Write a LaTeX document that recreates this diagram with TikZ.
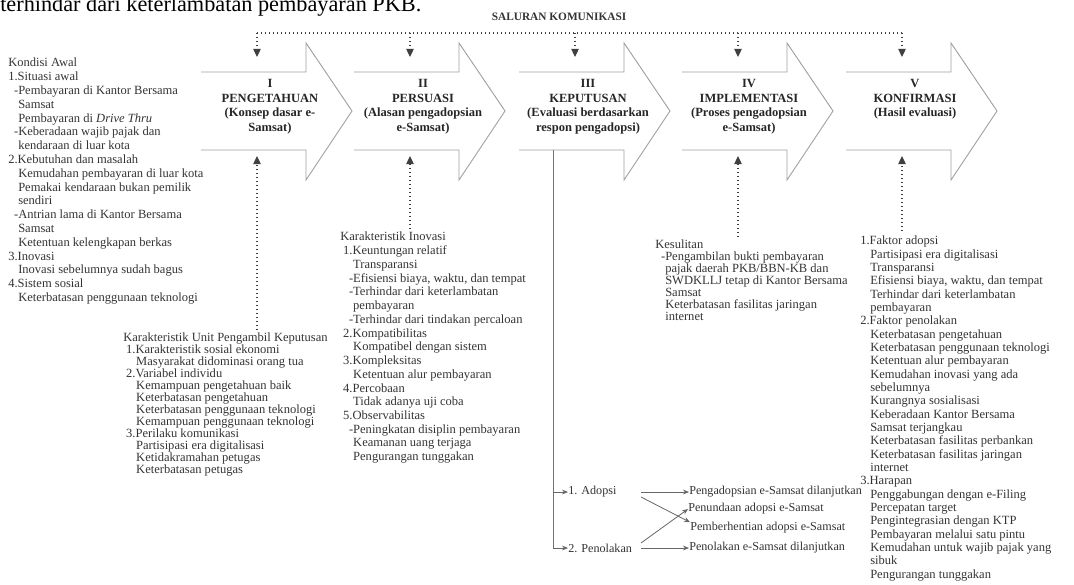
\documentclass[tikz,border=0pt]{standalone}
\usepackage{fontspec}
\setmainfont{Liberation Serif}
\usetikzlibrary{arrows.meta}
\definecolor{txt}{HTML}{333333}
\definecolor{arrowline}{HTML}{A0A0A0}
\definecolor{dotc}{HTML}{404040}
\newcommand\indt{\hspace*{7.5pt}}
\newcommand\numi{\hspace*{2.2pt}}
\tikzset{
  body/.style={anchor=north west, inner sep=0pt, align=left, text=txt, font=\fontsize{9.4}{#1}\selectfont},
  body/.default=9.75,
  stagelabel/.style={anchor=north, inner sep=0pt, align=center, text=black!85, font=\bfseries\fontsize{9.4}{10.9}\selectfont},
  stagearrow/.style={draw=arrowline, line width=0.7pt, line join=miter},
  dotline/.style={draw=dotc, line width=0.9pt, dash pattern=on 0.8pt off 2.2pt},
  dottip/.style={-{Triangle[length=6pt,width=5.5pt]}},
  branchline/.style={draw=black!60, line width=0.6pt},
  branch/.style={branchline, -{Stealth[length=4.5pt,width=3.6pt]}},
  smalltext/.style={anchor=west, inner sep=0pt, text=txt, font=\fontsize{9.1}{9.5}\selectfont},
}
\begin{document}
\begin{tikzpicture}[x=0.75pt,y=-0.75pt]
\useasboundingbox (0,0) rectangle (1074,585);
\clip (0,0) rectangle (1074,585);

% text above the figure
\node[anchor=base west, inner sep=0pt, font=\fontsize{16.7}{19}\selectfont] (toptext) at (0,12) {terhindar dari keterlambatan pembayaran PKB.};

% communication channel
\node[inner sep=0pt, font=\bfseries\fontsize{8.5}{10}\selectfont, text=black!80] (saluran) at (559,17) {SALURAN KOMUNIKASI};
\coordinate (busL) at (257,33);
\coordinate (busR) at (902,33);
\draw[dotline] (busL) -- (busR);

% stage arrows
\foreach \c/\n in {257/1,410/2,575/3,738/4,902/5}{
  \draw[stagearrow] (\c-56,72) -- (\c+49,72) -- (\c+49,43) -- (\c+95,111) -- (\c+49,180) -- (\c+49,150) -- (\c-56,150);
  \coordinate (bus\n) at (\c,33);
  \coordinate (in\n) at (\c,57);
  \draw[dotline, dottip] (bus\n) -- (in\n);
  \coordinate (up\n) at (\c,156);
}

\node[stagelabel] (s1) at (270,79) {I\\PENGETAHUAN\\(Konsep dasar e-\\Samsat)};
\node[stagelabel] (s2) at (423,79) {II\\PERSUASI\\(Alasan pengadopsian\\e-Samsat)};
\node[stagelabel] (s3) at (588,79) {III\\KEPUTUSAN\\(Evaluasi berdasarkan\\respon pengadopsi)};
\node[stagelabel] (s4) at (749,79) {IV\\IMPLEMENTASI\\(Proses pengadopsian\\e-Samsat)};
\node[stagelabel] (s5) at (915,79) {V\\KONFIRMASI\\(Hasil evaluasi)};

% Kondisi awal
\node[body=10.35] (kondisi) at (8,58) {Kondisi Awal\\
1.Situasi awal\\
\indt\llap{-}Pembayaran di Kantor Bersama\\
\indt Samsat\\
\indt Pembayaran di \textit{Drive Thru}\\
\indt\llap{-}Keberadaan wajib pajak dan\\
\indt kendaraan di luar kota\\
2.Kebutuhan dan masalah\\
\indt Kemudahan pembayaran di luar kota\\
\indt Pemakai kendaraan bukan pemilik\\
\indt sendiri\\
\indt\llap{-}Antrian lama di Kantor Bersama\\
\indt Samsat\\
\indt Ketentuan kelengkapan berkas\\
3.Inovasi\\
\indt Inovasi sebelumnya sudah bagus\\
4.Sistem sosial\\
\indt Keterbatasan penggunaan teknologi};

% Karakteristik unit pengambil keputusan
\node[body=9] (unit) at (123,333) {Karakteristik Unit Pengambil Keputusan\\
\numi 1.Karakteristik sosial ekonomi\\
\numi\indt Masyarakat didominasi orang tua\\
\numi 2.Variabel individu\\
\numi\indt Kemampuan pengetahuan baik\\
\numi\indt Keterbatasan pengetahuan\\
\numi\indt Keterbatasan penggunaan teknologi\\
\numi\indt Kemampuan penggunaan teknologi\\
\numi 3.Perilaku komunikasi\\
\numi\indt Partisipasi era digitalisasi\\
\numi\indt Ketidakramahan petugas\\
\numi\indt Keterbatasan petugas};

% Karakteristik inovasi
\node[body=10.3] (inovasi) at (340,232) {Karakteristik Inovasi\\
\numi 1.Keuntungan relatif\\
\numi\indt Transparansi\\
\numi\indt\llap{-}Efisiensi biaya, waktu, dan tempat\\
\numi\indt\llap{-}Terhindar dari keterlambatan\\
\numi\indt pembayaran\\
\numi\indt\llap{-}Terhindar dari tindakan percaloan\\
\numi 2.Kompatibilitas\\
\numi\indt Kompatibel dengan sistem\\
\numi 3.Kompleksitas\\
\numi\indt Ketentuan alur pembayaran\\
\numi 4.Percobaan\\
\numi\indt Tidak adanya uji coba\\
\numi 5.Observabilitas\\
\numi\indt\llap{-}Peningkatan disiplin pembayaran\\
\numi\indt Keamanan uang terjaga\\
\numi\indt Pengurangan tunggakan};

% Kesulitan
\node[body=8.9] (kesulitan) at (655,240) {Kesulitan\\
\indt\llap{-}Pengambilan bukti pembayaran\\
\indt pajak daerah PKB/BBN-KB dan\\
\indt SWDKLLJ tetap di Kantor Bersama\\
\indt Samsat\\
\indt Keterbatasan fasilitas jaringan\\
\indt internet};

% Konfirmasi
\node[body=10.0] (faktor) at (860,236) {1.Faktor adopsi\\
\indt Partisipasi era digitalisasi\\
\indt Transparansi\\
\indt Efisiensi biaya, waktu, dan tempat\\
\indt Terhindar dari keterlambatan\\
\indt pembayaran\\
2.Faktor penolakan\\
\indt Keterbatasan pengetahuan\\
\indt Keterbatasan penggunaan teknologi\\
\indt Ketentuan alur pembayaran\\
\indt Kemudahan inovasi yang ada\\
\indt sebelumnya\\
\indt Kurangnya sosialisasi\\
\indt Keberadaan Kantor Bersama\\
\indt Samsat terjangkau\\
\indt Keterbatasan fasilitas perbankan\\
\indt Keterbatasan fasilitas jaringan\\
\indt internet\\
3.Harapan\\
\indt Penggabungan dengan e-Filing\\
\indt Percepatan target\\
\indt Pengintegrasian dengan KTP\\
\indt Pembayaran melalui satu pintu\\
\indt Kemudahan untuk wajib pajak yang\\
\indt sibuk\\
\indt Pengurangan tunggakan};

% upward dotted arrows from the characteristic blocks
\coordinate (f1) at (257,330);
\coordinate (f2) at (410,229);
\coordinate (f4) at (738,237);
\coordinate (f5) at (902,231);
\foreach \n in {1,2,4,5}{\draw[dotline, dottip] (f\n) -- (up\n);}

% decision branches
\coordinate (dtop) at (553,150);
\coordinate (dbot) at (553,548);
\coordinate (dmid) at (553,492);
\draw[branchline, draw=black!55] (dtop) -- (dbot);
\node[smalltext] (adopsi) at (568,492) {1. Adopsi};
\node[smalltext] (tolak) at (568,548) {2. Penolakan};
\draw[branch] (dmid) -- (adopsi.west);
\draw[branch] (dbot) -- (tolak.west);

\node[smalltext] (lanjut) at (689,492) {Pengadopsian e-Samsat dilanjutkan};
\node[smalltext] (tunda) at (688,509) {Penundaan adopsi e-Samsat};
\node[smalltext] (henti) at (690,528) {Pemberhentian adopsi e-Samsat};
\node[smalltext] (tolaklanjut) at (689,548) {Penolakan e-Samsat dilanjutkan};

\coordinate (a1) at (641,492);
\coordinate (a2) at (641,497);
\coordinate (p1) at (641,548);
\coordinate (p2) at (641,543);
\draw[branch] (a1) -- (lanjut.west);
\draw[branch] (p1) -- (tolaklanjut.west);
\draw[branch] (a2) -- (henti.north west);
\draw[branch] (p2) -- (tunda.west);
\end{tikzpicture}
\end{document}
